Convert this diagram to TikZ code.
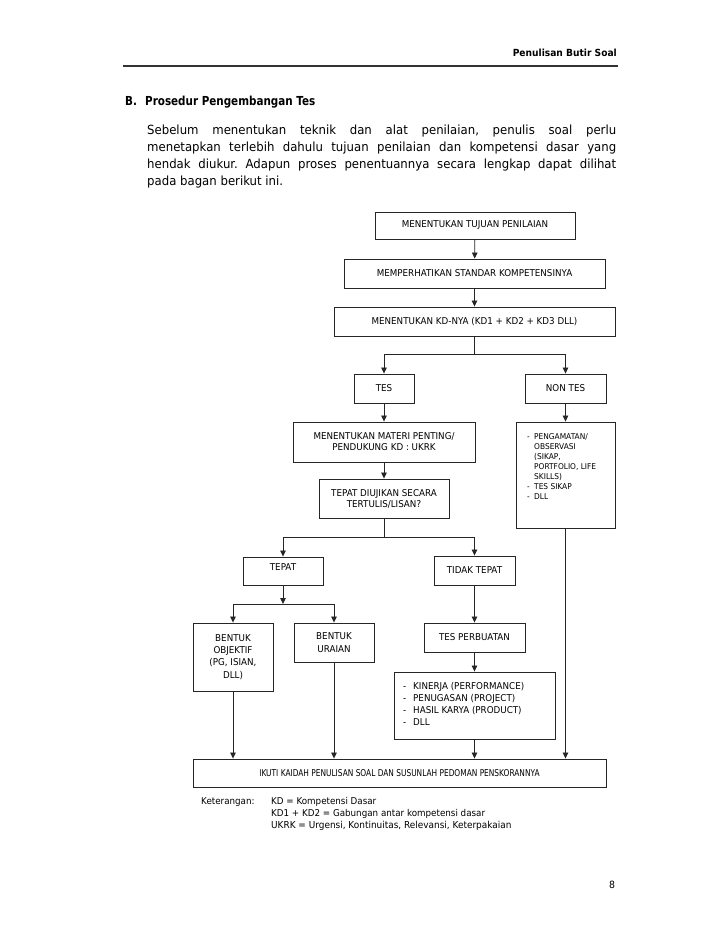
\documentclass[tikz,border=0pt]{standalone}
\usepackage{fontspec}
\usepackage{graphicx}
\setmainfont{DejaVu Sans}[FakeStretch=0.93]
\usetikzlibrary{arrows.meta}
\newcommand\boxfont{\fontsize{9.4}{11}\selectfont}
\newcommand\parafont{\fontsize{12.6}{17}\selectfont}
\frenchspacing
\begin{document}
\begin{tikzpicture}[x=1pt,y=-1pt,
  box/.style={draw=black!85, line width=0.9pt, inner sep=0pt, align=center, font=\boxfont},
  txt/.style={inner sep=0pt, font=\boxfont},
  arr/.style={draw=black!85, line width=0.8pt, -{Triangle[length=6pt,width=5.5pt]}},
  ln/.style={draw=black!85, line width=0.8pt}]
\useasboundingbox[fill=white] (0,0) rectangle (728,943);

% header
\node[inner sep=0pt, anchor=east, font=\fontsize{9.8}{11}\selectfont\bfseries] (hdr) at (617,53) {Penulisan Butir Soal};
\coordinate (r1) at (123,66);
\coordinate (r2) at (618,66);
\draw[draw=black!80, line width=1.4pt] (r1) -- (r2);

% heading
\node[inner sep=0pt, anchor=west, font=\fontsize{12.4}{15}\selectfont\bfseries] (head) at (125,102) {\scalebox{0.9}[1]{B.\hspace{9pt}Prosedur Pengembangan Tes}};

% paragraph
\node[inner sep=0pt, anchor=west, font=\parafont] (p1) at (147,131) {\makebox[469pt][s]{Sebelum menentukan teknik dan alat penilaian, penulis soal perlu}};
\node[inner sep=0pt, anchor=west, font=\parafont] (p2) at (147,148) {\makebox[469pt][s]{menetapkan terlebih dahulu tujuan penilaian dan kompetensi dasar yang}};
\node[inner sep=0pt, anchor=west, font=\parafont] (p3) at (147,165) {\makebox[469pt][s]{hendak diukur. Adapun proses penentuannya secara lengkap dapat dilihat}};
\node[inner sep=0pt, anchor=west, font=\parafont] (p4) at (147,182) {pada bagan berikut ini.};

% boxes
\node[box, minimum width=200pt, minimum height=27pt] (b1) at (475,225.5) {MENENTUKAN TUJUAN PENILAIAN};
\node[box, minimum width=261pt, minimum height=29pt] (b2) at (474.5,273.5) {MEMPERHATIKAN STANDAR KOMPETENSINYA};
\node[box, minimum width=281pt, minimum height=29pt] (b3) at (474.5,321.5) {MENENTUKAN KD-NYA (KD1 + KD2 + KD3 DLL)};
\node[box, minimum width=60pt, minimum height=29pt] (tes) at (384,388.5) {TES};
\node[box, minimum width=81pt, minimum height=29pt] (nontes) at (565.5,388.5) {NON TES};
\node[box, minimum width=182pt, minimum height=40pt] (materi) at (384,442) {MENENTUKAN MATERI PENTING/\\PENDUKUNG KD : UKRK};
\node[box, minimum width=130pt, minimum height=39pt] (tepatd) at (384,498.5) {TEPAT DIUJIKAN SECARA\\TERTULIS/LISAN?};
\node[box, minimum width=99pt, minimum height=106pt] (nonlist) at (565.5,475) {};
\node[txt, anchor=west, align=left, font=\fontsize{8}{10}\selectfont] (nonlistT) at (527,467)
  {\makebox[7pt][l]{-}PENGAMATAN/\\\hspace*{7pt}OBSERVASI\\\hspace*{7pt}(SIKAP,\\\hspace*{7pt}PORTFOLIO, LIFE\\\hspace*{7pt}SKILLS)\\\makebox[7pt][l]{-}TES SIKAP\\\makebox[7pt][l]{-}DLL};
\node[box, minimum width=80pt, minimum height=28pt] (tepat) at (283,571) {};
\node[txt] (tepatT) at (283,567) {TEPAT};
\node[box, minimum width=81pt, minimum height=29pt] (tidak) at (474.5,570.5) {TIDAK TEPAT};
\node[box, minimum width=80pt, minimum height=68pt, font=\fontsize{9.4}{12.3}\selectfont] (bo) at (233,657) {BENTUK\\OBJEKTIF\\(PG, ISIAN,\\DLL)};
\node[box, minimum width=80pt, minimum height=39pt, font=\fontsize{9.4}{12.3}\selectfont] (bu) at (334,642.5) {BENTUK\\URAIAN};
\node[box, minimum width=101pt, minimum height=29pt] (tp) at (474.5,637.5) {TES PERBUATAN};
\node[box, minimum width=161pt, minimum height=67pt] (plist) at (474.5,705.5) {};
\node[txt, anchor=west, align=left, font=\fontsize{9.4}{12}\selectfont] (plistT) at (403,703.5)
  {\makebox[10pt][l]{-}KINERJA (PERFORMANCE)\\\makebox[10pt][l]{-}PENUGASAN (PROJECT)\\\makebox[10pt][l]{-}HASIL KARYA (PRODUCT)\\\makebox[10pt][l]{-}DLL};
\node[box, minimum width=413pt, minimum height=28pt] (final) at (399.5,773) {\scalebox{0.85}[1]{IKUTI KAIDAH PENULISAN SOAL DAN SUSUNLAH PEDOMAN PENSKORANNYA}};

% legend
\node[txt, anchor=west, font=\fontsize{9.4}{11}\selectfont] (ket) at (201,802) {Keterangan:};
\node[txt, anchor=west, font=\fontsize{9.4}{11}\selectfont] (k1) at (271,802) {KD = Kompetensi Dasar};
\node[txt, anchor=west, font=\fontsize{9.4}{11}\selectfont] (k2) at (271,813.5) {KD1 + KD2 = Gabungan antar kompetensi dasar};
\node[txt, anchor=west, font=\fontsize{9.6}{11}\selectfont] (k3) at (271,826) {UKRK = Urgensi, Kontinuitas, Relevansi, Keterpakaian};

% page number
\node[txt, font=\fontsize{10}{12}\selectfont] (pg) at (612,885) {8};

% connectors
\draw[arr] (b1) -- (b2);
\draw[arr] (b2) -- (b3);
\coordinate (j1) at (474.5,354);
\draw[ln] (b3.south) -- (j1);
\draw[arr] (j1) -| (tes.north);
\draw[arr] (j1) -| (nontes.north);
\draw[arr] (tes) -- (materi);
\draw[arr] (materi) -- (tepatd);
\draw[arr] (nontes) -- (nonlist);
\coordinate (j2) at (384,537);
\draw[ln] (tepatd.south) -- (j2);
\draw[arr] (j2) -| (tepat.north);
\draw[arr] (j2) -| (tidak.north);
\coordinate (j3) at (283,604);
\draw[arr] (tepat.south) -- (j3);
\draw[arr] (j3) -| (bo.north);
\draw[arr] (j3) -| (bu.north);
\draw[arr] (tidak) -- (tp);
\draw[arr] (tp) -- (plist);
\draw[arr] (bo.south) -- (bo.south |- final.north);
\draw[arr] (bu.south) -- (bu.south |- final.north);
\draw[arr] (plist.south) -- (plist.south |- final.north);
\draw[arr] (nonlist.south) -- (nonlist.south |- final.north);
\end{tikzpicture}
\end{document}
